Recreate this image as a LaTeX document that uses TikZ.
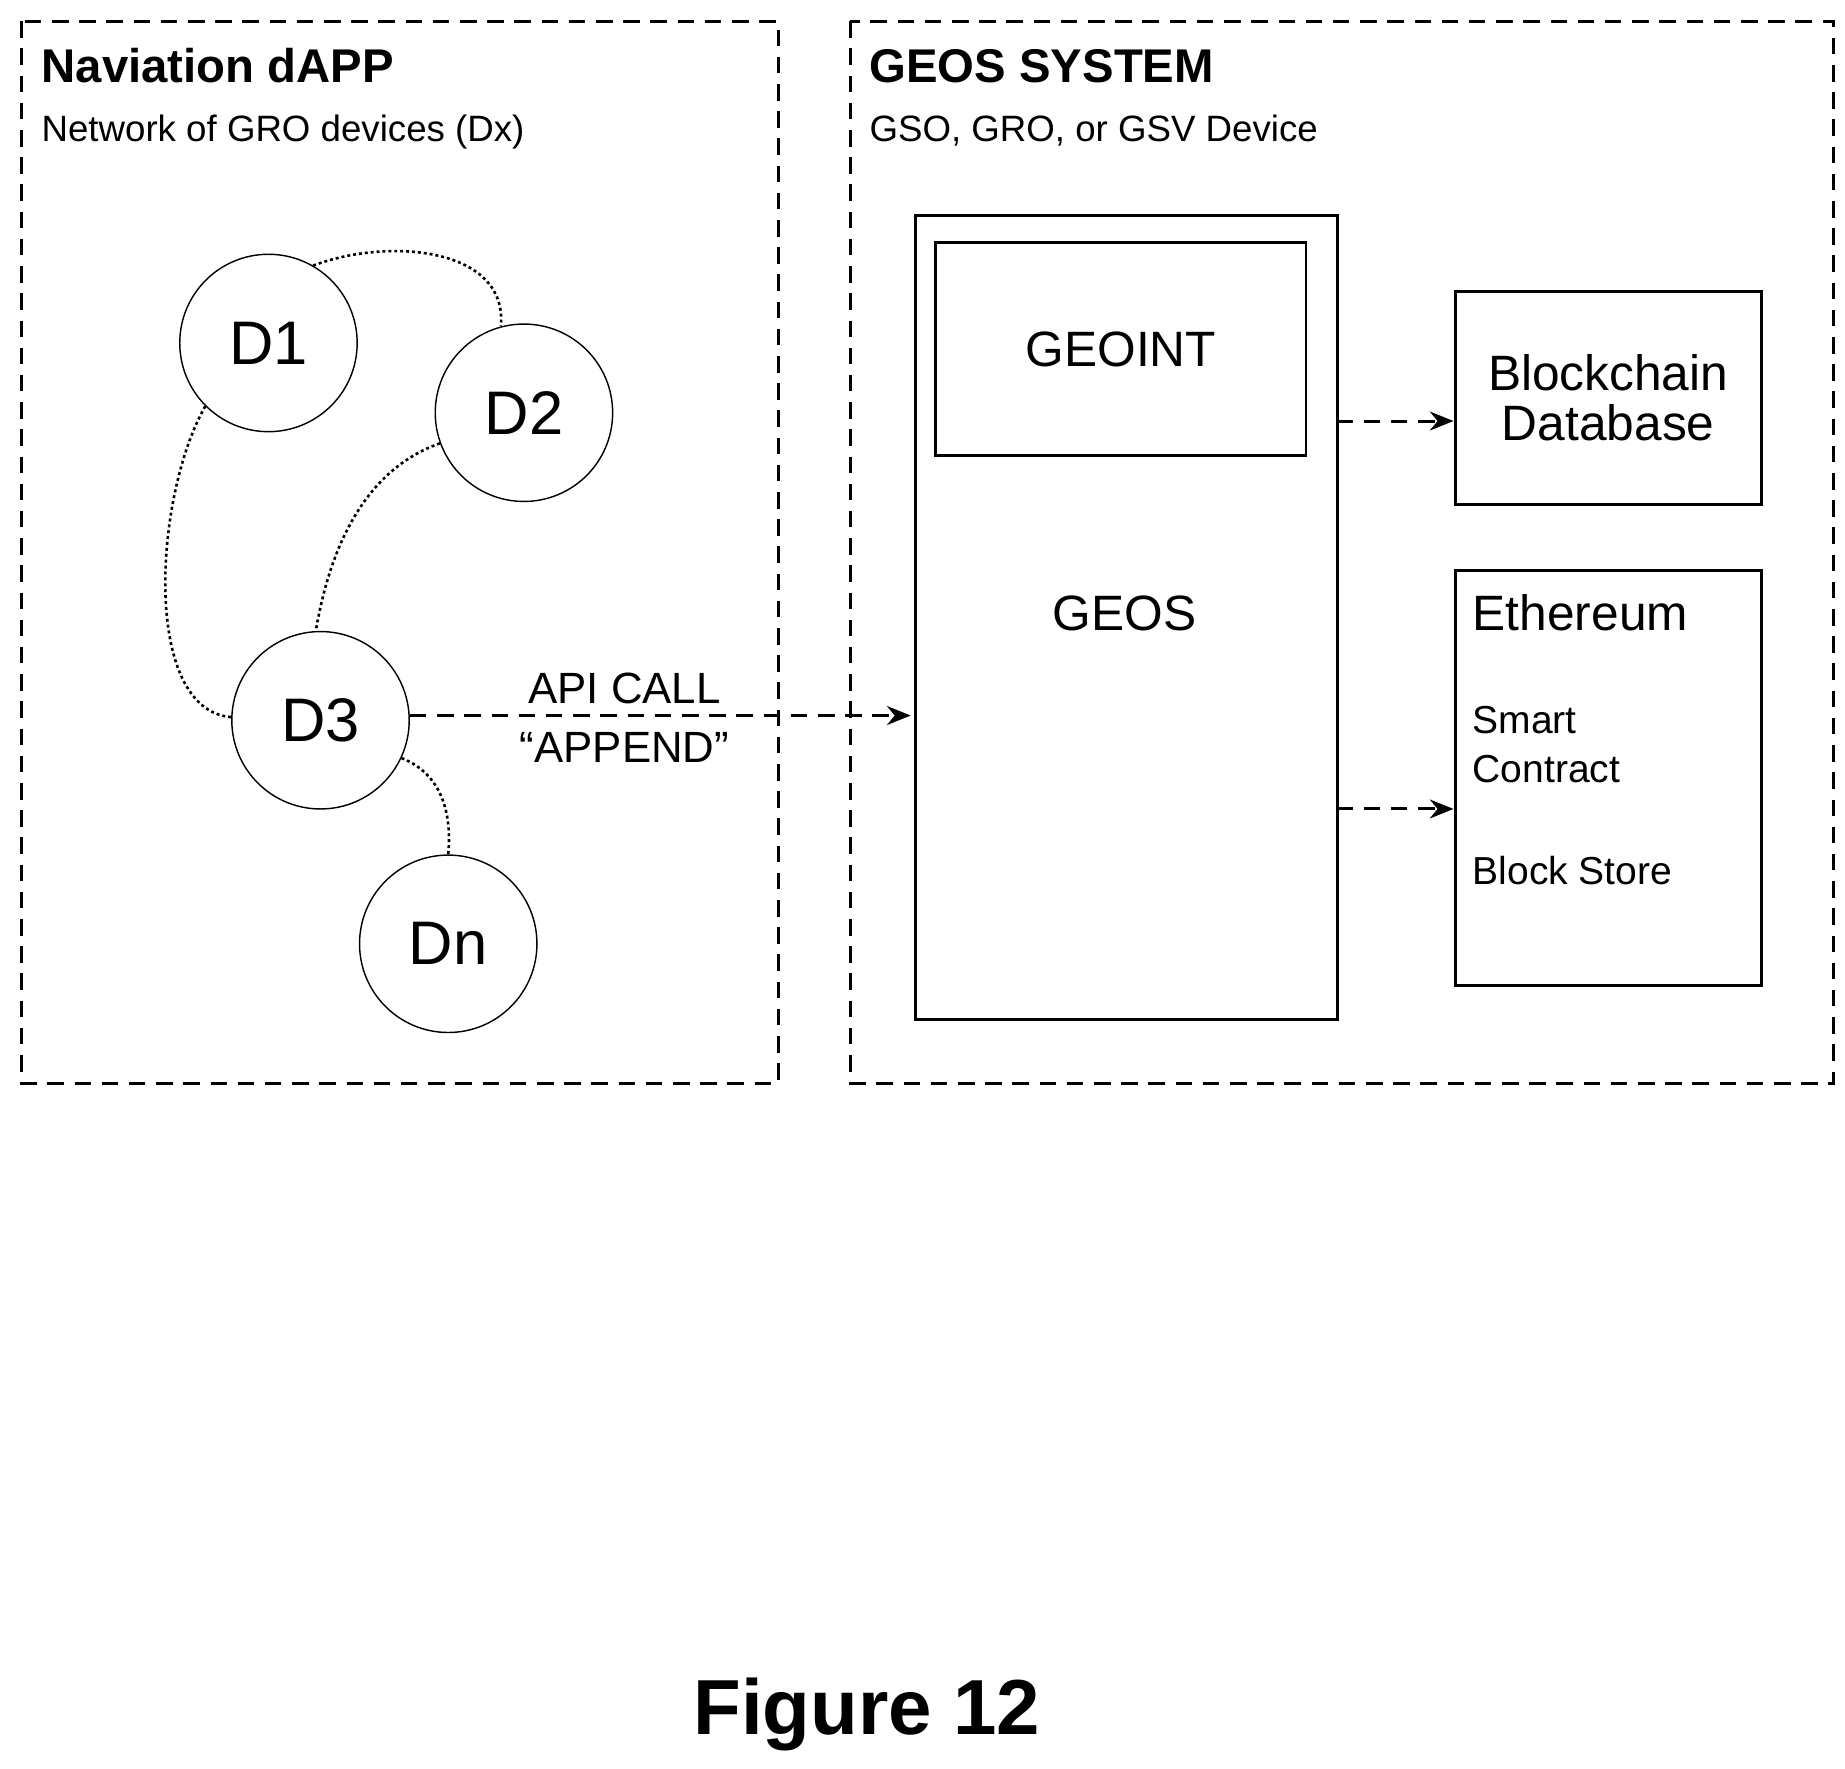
\documentclass[tikz,border=0pt]{standalone}
\usepackage{fontspec}
\setmainfont{Liberation Sans}
\usetikzlibrary{arrows.meta}
\newcommand{\fs}[1]{\fontsize{#1}{#1}\selectfont}
\begin{document}
\begin{tikzpicture}[x=1pt,y=-1pt,
  dbox/.style={draw,line width=2.5pt,dash pattern=on 14pt off 9pt},
  dev/.style={circle,draw,line width=1.2pt,minimum size=150pt,inner sep=0pt,font=\fs{52}},
  box/.style={draw,line width=2.5pt},
  link/.style={line width=2.2pt,dash pattern=on 2.5pt off 2.5pt},
  arr/.style={line width=2.5pt,dash pattern=on 14pt off 9pt,-{Stealth[length=20pt,width=16pt]}},
  txt/.style={inner sep=0pt,anchor=base west}]
\useasboundingbox (0,0) rectangle (1560,1495);
\draw[dbox] (18,18) rectangle (658,916);
\draw[dbox] (719,18) rectangle (1550,916);
\node[txt,font=\bfseries\fs{40}] at (35,70) {Naviation dAPP};
\node[txt,font=\fs{31}] at (35,120) {Network of GRO devices (Dx)};
\node[txt,font=\bfseries\fs{40}] at (735,70) {GEOS SYSTEM};
\node[txt,font=\fs{31}] at (735,120) {GSO, GRO, or GSV Device};
\node[dev] (d1) at (227,290) {D1};
\node[dev] (d2) at (443,349) {D2};
\node[dev] (d3) at (271,609) {D3};
\node[dev] (dn) at (379,798) {Dn};
\draw[link] (d1.60) .. controls (330,200) and (430,210) .. (d2.105);
\draw[link] (d1.225) .. controls (130,420) and (120,600) .. (d3.178);
\draw[link] (d2.200) .. controls (300,400) and (276,480) .. (d3.93);
\draw[link] (d3.-25) .. controls (375,655) and (382,690) .. (dn.90);
\node[box,minimum width=357pt,minimum height=680pt,anchor=north west,inner sep=0pt] (geos) at (773,181) {};
\node[box,minimum width=313pt,minimum height=180pt,anchor=north west,inner sep=0pt,font=\fs{42}] (geoint) at (790,204) {GEOINT};
\node[font=\fs{42}] at (951,519) {GEOS};
\node[box,minimum width=259pt,minimum height=180pt,anchor=north west,inner sep=0pt,font=\fs{42},align=center] (bc) at (1229,245) {Blockchain\\Database};
\node[box,minimum width=259pt,minimum height=351pt,anchor=north west,inner sep=0pt] (eth) at (1229,481) {};
\node[txt,font=\fs{42}] at (1245,533) {Ethereum};
\node[txt,font=\fs{33}] at (1245,620) {Smart};
\node[txt,font=\fs{33}] at (1245,662) {Contract};
\node[txt,font=\fs{33}] at (1245,748) {Block Store};
\coordinate (g1) at (1130,356);
\coordinate (g2) at (1130,684);
\draw[arr] (g1) -- (bc.west |- g1);
\draw[arr] (g2) -- (eth.west |- g2);
\coordinate (gin) at (770,605);
\draw[arr] (d3.east |- gin) -- (gin);
\node[font=\fs{37}] at (528,582) {API CALL};
\node[font=\fs{37}] at (528,632) {“APPEND”};
\node[font=\bfseries\fs{66}] at (733,1450) {Figure 12};
\end{tikzpicture}
\end{document}
